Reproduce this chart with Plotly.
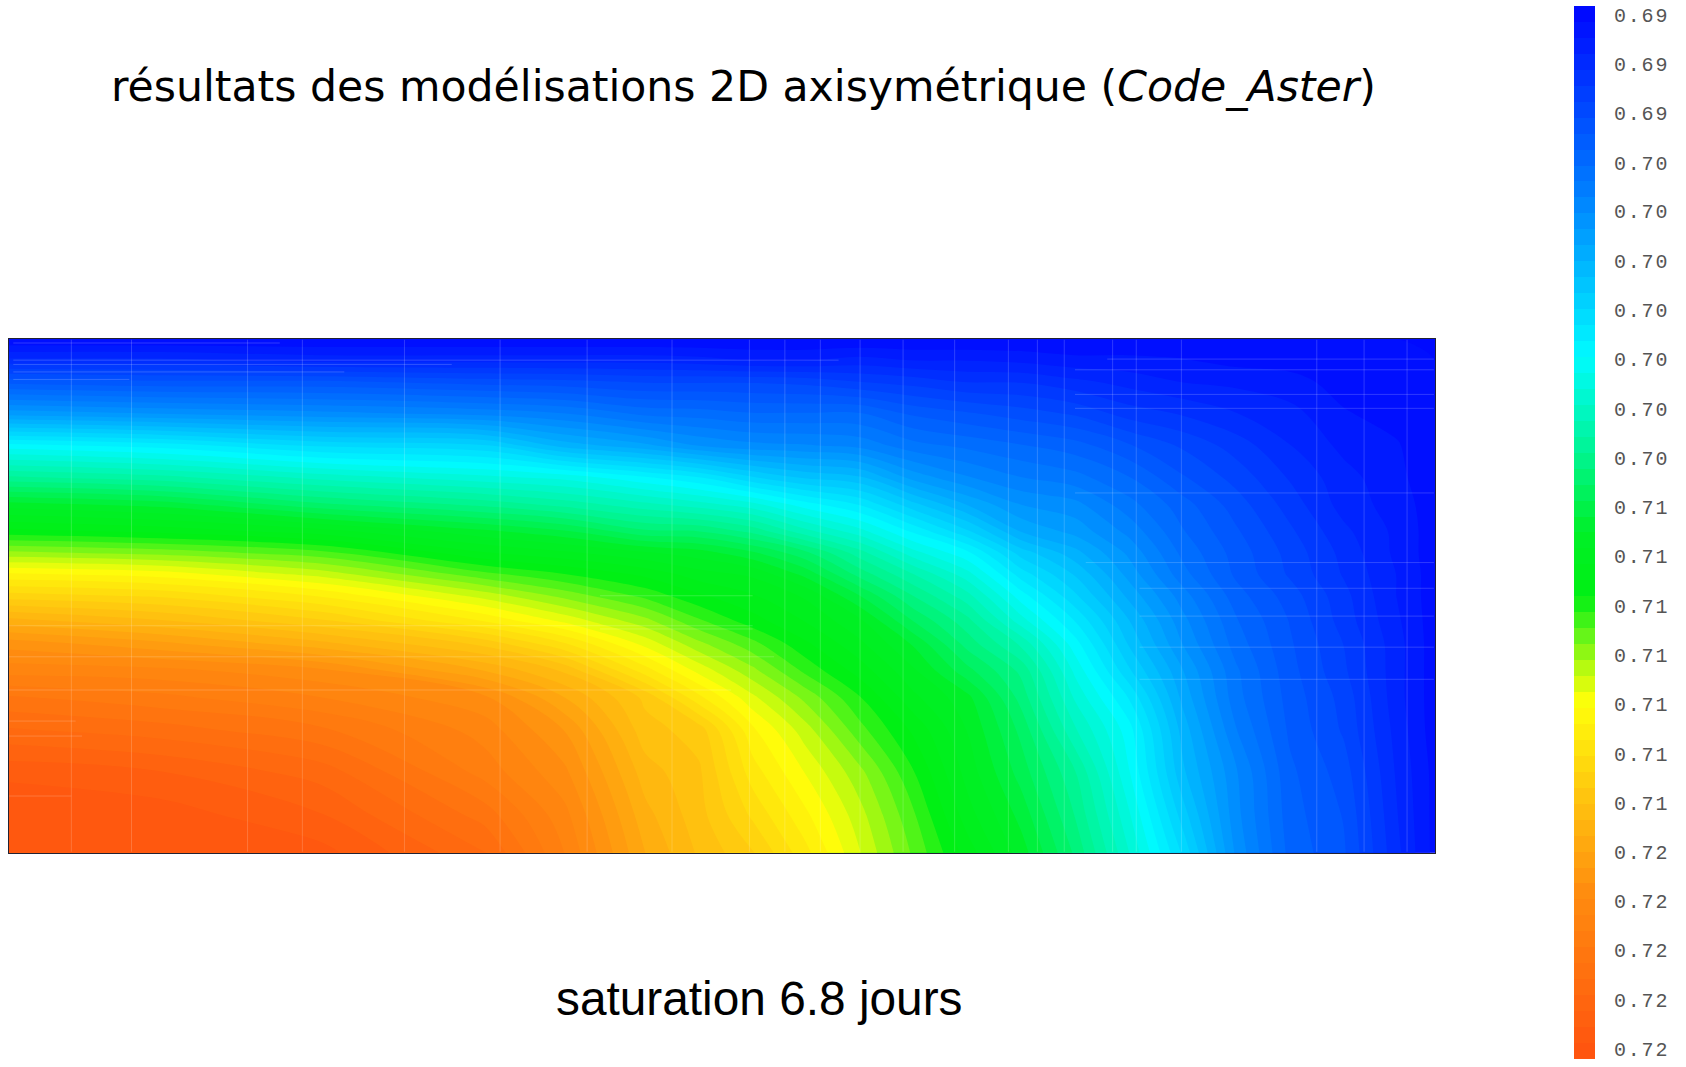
import plotly.graph_objects as go

W, H = 1686, 1067

title_text = "résultats des modélisations 2D axisymétrique (<i>Code_Aster</i>)"
caption_text = "saturation 6.8 jours"

x_mesh = [8, 150, 300, 450, 525, 600, 650, 700, 750, 800, 850, 900, 950, 1000, 1050, 1100, 1150, 1200, 1250, 1300, 1335]
y_mesh = [315, 335, 355, 385, 415, 445, 470, 495, 515, 535, 555, 578, 600, 625, 650, 680, 720, 760, 795]

# saturation, one list per column (top to bottom)
sat_columns = [
    [.6914,.6929,.6949,.6977,.7013,.7040,.7064,.7082,.7100,.7118,.7133,.7151,.7166,.7175,.7187,.7196,.7208,.7214,.7214],
    [.6914,.6929,.6947,.6974,.7009,.7036,.7060,.7079,.7097,.7115,.7130,.7145,.7160,.7174,.7183,.7193,.7205,.7212,.7214],
    [.6914,.6926,.6947,.6971,.7001,.7028,.7049,.7073,.7091,.7106,.7121,.7136,.7151,.7169,.7177,.7187,.7198,.7205,.7211],
    [.6914,.6926,.6944,.6968,.6998,.7022,.7042,.7063,.7076,.7091,.7106,.7121,.7139,.7154,.7169,.7175,.7180,.7189,.7196],
    [.6914,.6926,.6943,.6965,.6986,.7019,.7037,.7058,.7072,.7085,.7097,.7111,.7127,.7144,.7154,.7163,.7169,.7174,.7177],
    [.6914,.6926,.6941,.6959,.6980,.7012,.7031,.7049,.7067,.7079,.7088,.7100,.7111,.7124,.7139,.7142,.7147,.7151,.7154],
    [.6914,.6925,.6941,.6958,.6974,.7007,.7027,.7048,.7064,.7073,.7081,.7090,.7100,.7111,.7123,.7138,.7141,.7142,.7144],
    [.6914,.6923,.6941,.6956,.6971,.6998,.7022,.7042,.7058,.7070,.7076,.7082,.7091,.7100,.7109,.7118,.7124,.7130,.7136],
    [.6914,.6923,.6940,.6956,.6970,.6992,.7013,.7031,.7049,.7060,.7070,.7075,.7081,.7088,.7097,.7105,.7112,.7118,.7123],
    [.6914,.6925,.6937,.6956,.6968,.6989,.7006,.7022,.7036,.7046,.7057,.7067,.7072,.7078,.7085,.7091,.7100,.7105,.7108],
    [.6914,.6923,.6935,.6950,.6962,.6977,.6994,.7010,.7022,.7034,.7043,.7052,.7061,.7067,.7072,.7079,.7085,.7090,.7093],
    [.6914,.6923,.6932,.6947,.6959,.6970,.6983,.6998,.7012,.7022,.7031,.7040,.7046,.7054,.7063,.7066,.7069,.7073,.7078],
    [.6914,.6922,.6932,.6944,.6956,.6965,.6974,.6983,.6995,.7004,.7013,.7022,.7033,.7042,.7046,.7051,.7055,.7060,.7064],
    [.6914,.6920,.6929,.6941,.6953,.6962,.6971,.6977,.6985,.6992,.6998,.7006,.7013,.7019,.7024,.7030,.7039,.7043,.7047],
    [.6914,.6920,.6926,.6935,.6947,.6956,.6962,.6968,.6973,.6977,.6982,.6988,.6992,.6998,.7006,.7013,.7016,.7021,.7025],
    [.6914,.6919,.6923,.6932,.6941,.6947,.6953,.6956,.6959,.6962,.6967,.6971,.6974,.6979,.6982,.6986,.6989,.6995,.7001],
    [.6914,.6917,.6922,.6928,.6935,.6940,.6944,.6947,.6949,.6950,.6953,.6956,.6958,.6961,.6962,.6965,.6970,.6971,.6973],
    [.6914,.6917,.6920,.6925,.6928,.6932,.6935,.6938,.6940,.6941,.6944,.6946,.6947,.6948,.6949,.6950,.6952,.6953,.6954],
    [.6914,.6916,.6917,.6919,.6922,.6925,.6926,.6929,.6931,.6932,.6934,.6935,.6937,.6938,.6940,.6941,.6944,.6946,.6947],
    [.6914,.6915,.6916,.6917,.6919,.6920,.6921,.6922,.6922,.6923,.6923,.6924,.6925,.6925,.6925,.6926,.6927,.6928,.6929],
    [.6914,.6914,.6914,.6915,.6915,.6915,.6916,.6916,.6916,.6916,.6916,.6916,.6916,.6916,.6916,.6916,.6917,.6917,.6917],
]

tick_labels = ["0.69"] * 3 + ["0.70"] * 7 + ["0.71"] * 7 + ["0.72"] * 5
tick_values = [.69140, .69283, .69426, .69569, .69711, .69854, .69997, .70140, .70283, .70426, .70569,
               .70711, .70854, .70997, .71140, .71283, .71426, .71569, .71711, .71854, .71997, .72140]

v_min, v_max = .6914, .7214
bar_low, bar_high = .69115, .72169
n_bands = 65
band_size = (v_max - v_min) / n_bands
n_bar = round((bar_high - bar_low) / band_size)
band_levels = [bar_low + (i + .5) * (bar_high - bar_low) / n_bar for i in range(n_bar)]

colorscale = [
    [0.00, "rgb(0,10,255)"], [0.17, "rgb(0,125,255)"], [0.33, "rgb(0,250,255)"],
    [0.42, "rgb(0,245,150)"], [0.50, "rgb(0,240,40)"], [0.562, "rgb(0,240,20)"],
    [0.60, "rgb(100,245,25)"], [0.635, "rgb(190,250,15)"], [0.665, "rgb(255,255,10)"],
    [0.75, "rgb(255,200,15)"], [0.85, "rgb(255,140,15)"], [1.00, "rgb(255,85,15)"],
]

# faint element edges of the mesh
edge_x = [66, 122, 230, 281, 376, 465, 546, 625, 697, 730, 763, 800, 840, 888, 938, 965, 990, 1035, 1057, 1099, 1225, 1269, 1309]
edge_y = [334, 344, 367, 380, 459, 524, 548, 574, 603, 633]
edge_y_from = [1030, 1000, 1000, 1000, 1000, 1010, 1060, 1060, 1060, 1060]
seg_y = [319, 335, 339, 346, 353, 583, 612, 643, 672, 686, 742, 555, 586]
seg_from = [12, 12, 12, 12, 12, 8, 8, 8, 8, 8, 8, 558, 558]
seg_to = [260, 780, 420, 320, 120, 700, 720, 680, 70, 76, 66, 700, 700]

line_x, line_y = [], []
for x in edge_x:
    line_x += [x, x, None]
    line_y += [316, 794, None]
for y, x0 in zip(edge_y, edge_y_from):
    line_x += [x0, 1334, None]
    line_y += [y, y, None]
for y, x0, x1 in zip(seg_y, seg_from, seg_to):
    line_x += [x0, x1, None]
    line_y += [y, y, None]

fig = go.Figure()
fig.add_trace(go.Contour(
    x=x_mesh, y=y_mesh, z=sat_columns, transpose=True,
    colorscale=colorscale, zmin=v_min, zmax=v_max, showscale=False,
    contours=dict(coloring="fill", start=v_min, end=v_max, size=band_size, showlines=False),
    line=dict(width=0, smoothing=1.0), hoverinfo="skip",
))
fig.add_trace(go.Scatter(
    x=line_x, y=line_y, mode="lines", showlegend=False, hoverinfo="skip",
    line=dict(color="rgba(255,255,255,0.18)", width=1),
))
fig.add_trace(go.Heatmap(
    x=[0], y=band_levels, z=[[v] for v in band_levels], xaxis="x2", yaxis="y2",
    colorscale=colorscale, zmin=v_min, zmax=v_max, showscale=False, hoverinfo="skip",
))

fig.update_layout(
    width=W, height=H, margin=dict(l=0, r=0, t=0, b=0),
    paper_bgcolor="white", plot_bgcolor="white", showlegend=False,
    xaxis=dict(domain=[9 / W, 1435 / W], range=[8, 1335], showgrid=False, zeroline=False,
               showticklabels=False, ticks="", showline=True, mirror=True, linecolor="#222233", linewidth=1),
    yaxis=dict(domain=[1 - 855 / H, 1 - 339 / H], range=[795, 315], showgrid=False, zeroline=False,
               showticklabels=False, ticks="", showline=True, mirror=True, linecolor="#222233", linewidth=1),
    xaxis2=dict(domain=[1574 / W, 1595 / W], anchor="y2", visible=False),
    yaxis2=dict(domain=[1 - 1062 / H, 1 - 5 / H], anchor="x2", side="right",
                range=[bar_high, bar_low], showgrid=False, zeroline=False, showline=False,
                tickmode="array", tickvals=tick_values, ticktext=tick_labels,
                ticks="", ticklabelstandoff=18, ticklabeloverflow="allow",
                tickfont=dict(family="Liberation Mono", size=20, color="#555555")),
    annotations=[
        dict(text=title_text, xref="paper", yref="paper", x=743 / W, y=1 - 85 / H,
             xanchor="center", yanchor="middle", showarrow=False,
             font=dict(family="DejaVu Sans", size=42.6, color="black")),
        dict(text=caption_text, xref="paper", yref="paper", x=759 / W, y=1 - 1001 / H,
             xanchor="center", yanchor="middle", showarrow=False,
             font=dict(family="Liberation Sans", size=47.8, color="black")),
    ],
)

fig.write_html(
    "out.html",
    config={"displayModeBar": False},
    post_script="document.body.style.margin='0';"
                "var s=document.createElement('style');"
                "s.textContent='.y2tick text{letter-spacing:1.8px}';"
                "document.head.appendChild(s);",
)
